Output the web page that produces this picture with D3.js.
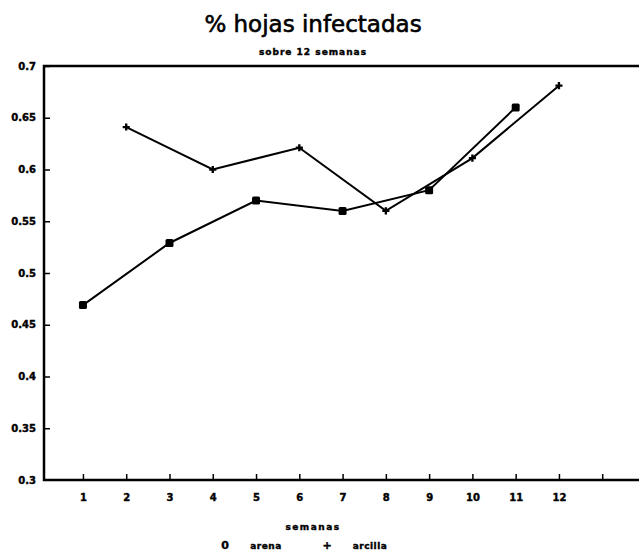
<!DOCTYPE html>
<html>
<head>
<meta charset="utf-8">
<script src="https://cdn.jsdelivr.net/npm/d3@7"></script>
<style>
  body { margin: 0; background: #fff; }
  svg { display: block; }
  .tick text { font-family: "DejaVu Sans", sans-serif; font-weight: bold; font-size: 10px; fill: #000; stroke: #000; stroke-width: 0.4px; }
</style>
</head>
<body>
<div id="chart"></div>
<script>
var title = "% hojas infectadas",
    subtitle = "sobre 12 semanas",
    xLabel = "semanas";

var xTicks = [1, 2, 3, 4, 5, 6, 7, 8, 9, 10, 11, 12, 13],
    xTickLabels = ["1", "2", "3", "4", "5", "6", "7", "8", "9", "10", "11", "12", ""];
var yTicks = [0.3, 0.35, 0.4, 0.45, 0.5, 0.55, 0.6, 0.65, 0.7],
    yTickLabels = ["0.3", "0.35", "0.4", "0.45", "0.5", "0.55", "0.6", "0.65", "0.7"];

var arenaWeeks = [1, 3, 5, 7, 9, 11],
    arenaValues = [0.469, 0.529, 0.570, 0.560, 0.580, 0.660];
var arcillaWeeks = [2, 4, 6, 8, 10, 12],
    arcillaValues = [0.641, 0.600, 0.621, 0.560, 0.611, 0.681];

draw_chart();

function draw_chart() {
    var width = 639, height = 553;
    // plot box (right side runs off the page like in the scan)
    var mLeft = 44, mRight = 639, mTop = 66, mBottom = 480;

    var svg = d3.select("#chart").append("svg")
        .attr("width", width)
        .attr("height", height);

    var x = d3.scaleLinear().domain([0.1, 13.85]).range([mLeft, mRight]);
    var y = d3.scaleLinear().domain([0.3, 0.7]).range([mBottom, mTop]);

    // titles
    svg.append("text")
        .attr("x", 313).attr("y", 32)
        .attr("text-anchor", "middle")
        .style("font-family", "DejaVu Sans, sans-serif")
        .style("font-size", "23px")
        .style("stroke", "#000")
        .style("stroke-width", "0.6px")
        .text(title);

    svg.append("text")
        .attr("x", 313).attr("y", 55)
        .attr("text-anchor", "middle")
        .style("font-family", "DejaVu Sans, sans-serif")
        .style("font-weight", "bold")
        .style("font-size", "9px")
        .style("letter-spacing", "1px")
        .style("stroke", "#000")
        .style("stroke-width", "0.4px")
        .text(subtitle);

    // axes
    var xAxis = d3.axisBottom(x)
        .tickValues(xTicks)
        .tickFormat((d, i) => xTickLabels[i])
        .tickSize(-6)
        .tickSizeOuter(0)
        .tickPadding(14);

    var yAxis = d3.axisLeft(y)
        .tickValues(yTicks)
        .tickFormat((d, i) => yTickLabels[i])
        .tickSize(-6)
        .tickSizeOuter(0)
        .tickPadding(8);

    var gx = svg.append("g")
        .attr("transform", "translate(0," + mBottom + ")")
        .call(xAxis);
    var gy = svg.append("g")
        .attr("transform", "translate(" + mLeft + ",0)")
        .call(yAxis);

    gx.select(".domain").remove();
    gy.select(".domain").remove();
    svg.selectAll(".tick line").attr("stroke", "#000").attr("stroke-width", 1.5);
    // the 0.3 tick sits on the frame corner, hide it
    gy.selectAll(".tick").filter(d => d === 0.3).select("line").remove();

    // frame: top, left and bottom lines
    svg.append("path")
        .attr("d", "M" + mRight + "," + mTop + "H" + mLeft + "V" + mBottom + "H" + mRight)
        .attr("fill", "none")
        .attr("stroke", "#000")
        .attr("stroke-width", 2.5);

    // series
    var line = d3.line()
        .x(d => x(d[0]))
        .y(d => y(d[1]));

    var arena = arenaWeeks.map((w, i) => [w, arenaValues[i]]);
    var arcilla = arcillaWeeks.map((w, i) => [w, arcillaValues[i]]);

    svg.append("path")
        .datum(arcilla)
        .attr("d", line)
        .attr("fill", "none")
        .attr("stroke", "#000")
        .attr("stroke-width", 2);

    svg.append("path")
        .datum(arena)
        .attr("d", line)
        .attr("fill", "none")
        .attr("stroke", "#000")
        .attr("stroke-width", 2);

    svg.append("g").selectAll("rect")
        .data(arena)
        .enter().append("rect")
        .attr("x", d => x(d[0]) - 4)
        .attr("y", d => y(d[1]) - 4)
        .attr("width", 8)
        .attr("height", 8)
        .attr("rx", 1.5)
        .attr("fill", "#000");

    svg.append("g").selectAll("path")
        .data(arcilla)
        .enter().append("path")
        .attr("transform", d => "translate(" + x(d[0]) + "," + y(d[1]) + ")")
        .attr("d", d3.symbol(d3.symbolCross, 28))
        .attr("fill", "#000");

    // x label and legend
    svg.append("text")
        .attr("x", 313).attr("y", 530)
        .attr("text-anchor", "middle")
        .style("font-family", "DejaVu Sans, sans-serif")
        .style("font-weight", "bold")
        .style("font-size", "9px")
        .style("letter-spacing", "1.5px")
        .style("stroke", "#000")
        .style("stroke-width", "0.4px")
        .text(xLabel);

    var legend = [
        {sym: "0", name: "arena", sx: 225, nx: 266},
        {sym: "+", name: "arcilla", sx: 327, nx: 370}
    ];

    var lg = svg.append("g").selectAll("g")
        .data(legend)
        .enter().append("g");

    lg.append("text")
        .attr("x", d => d.sx).attr("y", 549)
        .attr("text-anchor", "middle")
        .style("font-family", "DejaVu Sans, sans-serif")
        .style("font-weight", "bold")
        .style("font-size", "11px")
        .style("stroke", "#000")
        .style("stroke-width", "0.4px")
        .text(d => d.sym);

    lg.append("text")
        .attr("x", d => d.nx).attr("y", 549)
        .attr("text-anchor", "middle")
        .style("font-family", "DejaVu Sans, sans-serif")
        .style("font-weight", "bold")
        .style("font-size", "9px")
        .style("letter-spacing", "0.5px")
        .style("stroke", "#000")
        .style("stroke-width", "0.4px")
        .text(d => d.name);
}
</script>
</body>
</html>
